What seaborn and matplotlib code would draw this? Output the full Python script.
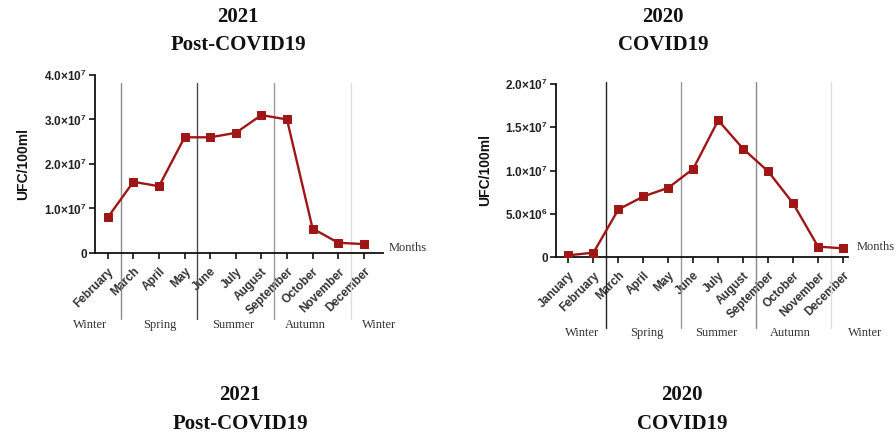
import matplotlib
matplotlib.use("Agg")
import matplotlib.pyplot as plt
import matplotlib.transforms as mtransforms
import seaborn as sns
import pandas as pd

# ---- data ----
months_2021 = ["February", "March", "April", "May", "June", "July", "August",
               "September", "October", "November", "December"]
ufc_2021 = [8.0e6, 1.6e7, 1.5e7, 2.6e7, 2.6e7, 2.7e7, 3.1e7, 3.0e7, 5.5e6, 2.3e6, 2.0e6]

months_2020 = ["January", "February", "March", "April", "May", "June", "July",
               "August", "September", "October", "November", "December"]
ufc_2020 = [2.0e5, 5.0e5, 5.5e6, 7.0e6, 8.0e6, 1.02e7, 1.58e7, 1.25e7, 9.9e6,
            6.2e6, 1.2e6, 1.0e6]

seasons = ["Winter", "Spring", "Summer", "Autumn", "Winter"]

yticks_2021 = [0, 1e7, 2e7, 3e7, 4e7]
ylabels_2021 = ["0", r"$\mathbf{1.0{\times}10^{7}}$", r"$\mathbf{2.0{\times}10^{7}}$",
                r"$\mathbf{3.0{\times}10^{7}}$", r"$\mathbf{4.0{\times}10^{7}}$"]
yticks_2020 = [0, 5e6, 1e7, 1.5e7, 2e7]
ylabels_2020 = ["0", r"$\mathbf{5.0{\times}10^{6}}$", r"$\mathbf{1.0{\times}10^{7}}$",
                r"$\mathbf{1.5{\times}10^{7}}$", r"$\mathbf{2.0{\times}10^{7}}$"]

# ---- layout ----
sep_2021 = [0.5, 3.5, 6.5, 9.5]
sep_2020 = [1.5, 4.5, 7.5, 10.5]
sep_colors_2021 = ["#8a8a8a", "#4a4a4a", "#9a9a9a", "#dcdcdc"]
sep_colors_2020 = ["#222222", "#9a9a9a", "#8a8a8a", "#dcdcdc"]
season_x_2021 = [-0.7, 2.05, 4.9, 7.7, 10.6]
season_x_2020 = [0.55, 3.15, 5.9, 8.9, 11.9]

sns.set_style("white")
plt.rcParams["mathtext.fontset"] = "custom"
plt.rcParams["mathtext.rm"] = "Liberation Sans"
plt.rcParams["mathtext.bf"] = "Liberation Sans:bold"
plt.rcParams["font.family"] = ["Liberation Sans", "DejaVu Sans"]

fig = plt.figure(figsize=(8.96, 4.36), dpi=100)
ax1 = fig.add_axes([95 / 896, 1 - 253 / 436, 288 / 896, 178 / 436])
ax2 = fig.add_axes([556 / 896, 1 - 257 / 436, 292 / 896, 173 / 436])

line_color = "#9e1616"


def draw(ax, months, values, yticks, ylabels, seps, sep_colors, season_x,
         xlim, sep_top, sep_bot, season_y, months_pos, ylabel_pad):
    df = pd.DataFrame({"idx": range(len(months)), "ufc": values})
    sns.lineplot(data=df, x="idx", y="ufc", ax=ax, color=line_color,
                 marker="s", markersize=6, linewidth=1.7,
                 markeredgecolor=line_color, zorder=5)
    ax.set_xlim(*xlim)
    ax.set_ylim(yticks[0], yticks[-1])
    ax.set_xticks(range(len(months)))
    ax.set_xticklabels(months, rotation=45, ha="right", rotation_mode="anchor",
                       fontsize=8.5, fontweight="bold", color="#333333")
    ax.set_yticks(yticks)
    ax.set_yticklabels(ylabels, fontsize=8.5, fontweight="bold", color="#222222")
    ax.set_xlabel("")
    ax.set_ylabel("UFC/100ml", fontsize=10, fontweight="bold",
                  labelpad=ylabel_pad, color="#111111")
    for s in ["top", "right"]:
        ax.spines[s].set_visible(False)
    for s in ["left", "bottom"]:
        ax.spines[s].set_linewidth(1.3)
        ax.spines[s].set_color("#111111")
    ax.tick_params(axis="both", direction="out", length=4, width=1.2,
                   color="#111111", left=True, bottom=True)
    ax.tick_params(axis="x", pad=5)
    ax.tick_params(axis="y", pad=2)
    trans = mtransforms.blended_transform_factory(ax.transData, ax.transAxes)
    for xs, c in zip(seps, sep_colors):
        ax.plot([xs, xs], [sep_top, sep_bot], transform=trans, color=c,
                linewidth=1.0, clip_on=False, zorder=1)
    for name, xs in zip(seasons, season_x):
        ax.text(xs, season_y, name, transform=trans, ha="center", va="center",
                fontsize=9, family="Liberation Serif", color="#333333")
    ax.text(months_pos[0], months_pos[1], "Months", transform=ax.transAxes,
            ha="left", va="center", fontsize=9, family="Liberation Serif",
            color="#333333")


draw(ax1, months_2021, ufc_2021, yticks_2021, ylabels_2021, sep_2021,
     sep_colors_2021, season_x_2021, (-0.5, 10.75), 0.955, -0.37, -0.405,
     (1.02, 0.03), 10)
draw(ax2, months_2020, ufc_2020, yticks_2020, ylabels_2020, sep_2020,
     sep_colors_2020, season_x_2020, (-0.5, 11.2), 1.01, -0.41, -0.44,
     (1.03, 0.06), 9)

title_kw = dict(ha="center", va="center", fontsize=15, fontweight="bold",
                family="Liberation Serif", color="#111111")
for xc, (year, label) in zip([238, 663], [("2021", "Post-COVID19"), ("2020", "COVID19")]):
    fig.text(xc / 896, 1 - 17 / 436, year, **title_kw)
    fig.text(xc / 896, 1 - 45 / 436, label, **title_kw)
for xc, (year, label) in zip([240, 682], [("2021", "Post-COVID19"), ("2020", "COVID19")]):
    fig.text(xc / 896, 1 - 395 / 436, year, **title_kw)
    fig.text(xc / 896, 1 - 424 / 436, label, **title_kw)

fig.savefig("out.png", dpi=100)
